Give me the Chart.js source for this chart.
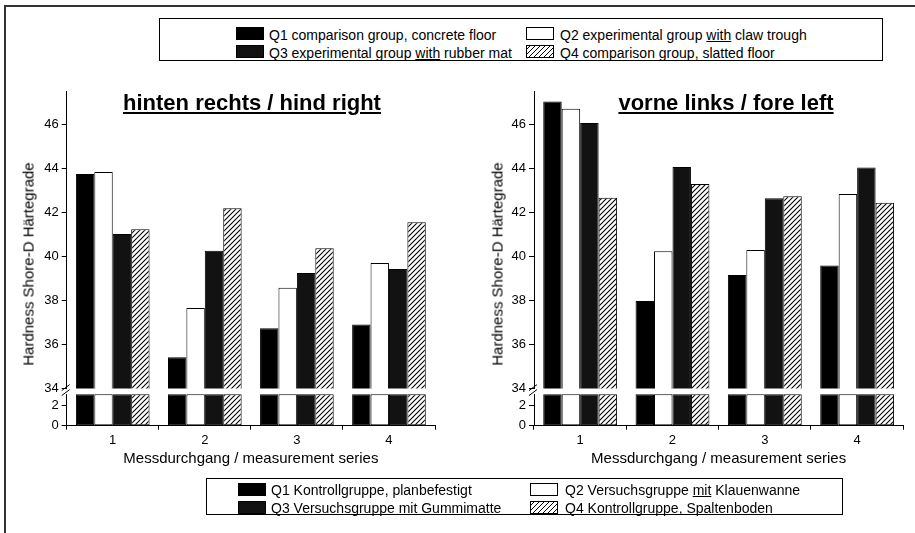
<!DOCTYPE html>
<html>
<head>
<meta charset="utf-8">
<script src="https://cdn.jsdelivr.net/npm/chart.js@4.4.1/dist/chart.umd.min.js"></script>
<style>
  body { margin: 0; background: #fff; }
  #page { position: relative; width: 915px; height: 533px; overflow: hidden; background: #fff;
          font-family: 'Liberation Sans', Arial, sans-serif; color: #000; }
  .frameTop { position: absolute; left: 4px; top: 5px; width: 911px; height: 0; border-top: 2px solid #333; }
  .frameLeft { position: absolute; left: 4px; top: 5px; width: 0; height: 528px; border-left: 2px solid #333; }
  .legendBox { position: absolute; border: 1px solid #000; box-sizing: border-box; }
  .swatch { position: absolute; width: 28px; height: 13px; box-sizing: border-box; border: 1px solid #000; }
  .sw1 { background: #000; }
  .sw2 { background: #fff; }
  .sw3 { background: #121212; }
  .sw4 { background: repeating-linear-gradient(-45deg, #fff 0px, #fff 2.4px, #000 2.4px, #000 3.5px); }
  .legendText { position: absolute; font-size: 14px; line-height: 16px; white-space: nowrap; }
  .panelTitle { position: absolute; font-size: 22px; font-weight: bold; line-height: 25px; white-space: nowrap;
                text-decoration: underline; text-decoration-thickness: 2px; text-underline-offset: 2px;
                transform: translateX(-50%); }
  .yTitle { position: absolute; font-size: 15px; white-space: nowrap; transform: translate(-50%, -50%) rotate(-90deg); }
  canvas { position: absolute; }
</style>
</head>
<body>
<div id="page">
  <div class="frameTop"></div>
  <div class="frameLeft"></div>

  <div class="legendBox" style="left:159px; top:18px; width:724px; height:43px;"></div>
  <div class="swatch sw1" style="left:236px; top:27px;"></div>
  <div class="legendText" style="left:269px; top:27px;">Q1 comparison group, concrete floor</div>
  <div class="swatch sw3" style="left:236px; top:45px;"></div>
  <div class="legendText" style="left:269px; top:45px;">Q3 experimental group <u>with</u> rubber mat</div>
  <div class="swatch sw2" style="left:526px; top:27px;"></div>
  <div class="legendText" style="left:560px; top:27px;">Q2 experimental group <u>with</u> claw trough</div>
  <div class="swatch sw4" style="left:526px; top:45px;"></div>
  <div class="legendText" style="left:560px; top:45px;">Q4 comparison group, slatted floor</div>

  <canvas id="hindChart" width="460" height="400" style="left:0px; top:80px;"></canvas>
  <canvas id="foreChart" width="455" height="400" style="left:460px; top:80px;"></canvas>

  <div class="panelTitle" style="left:252px; top:90px;">hinten rechts / hind right</div>
  <div class="panelTitle" style="left:726px; top:90px;">vorne links / fore left</div>
  <div class="yTitle" style="left:28px; top:264px;">Hardness Shore-D Härtegrade</div>
  <div class="yTitle" style="left:497px; top:264px;">Hardness Shore-D Härtegrade</div>

  <div class="legendBox" style="left:206px; top:478px; width:637px; height:37px;"></div>
  <div class="swatch sw1" style="left:238px; top:483px;"></div>
  <div class="legendText" style="left:271px; top:482px;">Q1 Kontrollgruppe, planbefestigt</div>
  <div class="swatch sw3" style="left:238px; top:501px;"></div>
  <div class="legendText" style="left:271px; top:500px;">Q3 Versuchsgruppe <u>mit</u> Gummimatte</div>
  <div class="swatch sw2" style="left:530px; top:483px;"></div>
  <div class="legendText" style="left:565px; top:482px;">Q2 Versuchsgruppe <u>mit</u> Klauenwanne</div>
  <div class="swatch sw4" style="left:530px; top:501px;"></div>
  <div class="legendText" style="left:565px; top:500px;">Q4 Kontrollgruppe, Spaltenboden</div>
</div>

<script>
// measurement series (x categories)
var series = ['1', '2', '3', '4'];

// hinten rechts / hind right
var hindQ1 = [43.76, 35.42, 36.74, 36.91];
var hindQ2 = [43.85, 37.67, 38.59, 39.71];
var hindQ3 = [41.03, 40.27, 39.26, 39.44];
var hindQ4 = [41.24, 42.20, 40.38, 41.56];

// vorne links / fore left
var foreQ1 = [47.05, 37.98, 39.16, 39.60];
var foreQ2 = [46.72, 40.25, 40.30, 42.85];
var foreQ3 = [46.08, 44.08, 42.65, 44.05];
var foreQ4 = [42.68, 43.30, 42.75, 42.45];

// y ticks on both sides of the axis break
var upperTicks = [34, 36, 38, 40, 42, 44, 46];
var lowerTicks = [0, 2];
var upperMin = 34, upperMax = 47.5;
var lowerMax = 3.6, lowerBarTop = 3.05;

Chart.defaults.font.family = "'Liberation Sans', Arial, sans-serif";
Chart.defaults.color = '#000';

// diagonal hatching for Q4
function makeHatch() {
  var c = document.createElement('canvas');
  c.width = 5; c.height = 5;
  var g = c.getContext('2d');
  g.fillStyle = '#fff';
  g.fillRect(0, 0, 5, 5);
  g.strokeStyle = '#000';
  g.lineWidth = 1.1;
  g.beginPath();
  g.moveTo(-1, 6); g.lineTo(6, -1);
  g.moveTo(-1, 1); g.lineTo(1, -1);
  g.moveTo(4, 6); g.lineTo(6, 4);
  g.stroke();
  return g.createPattern(c, 'repeat');
}
var hatch = makeHatch();

function buildDatasets(q1, q2, q3, q4) {
  var groups = [
    { key: 'Q1', values: q1, fill: '#000' },
    { key: 'Q2', values: q2, fill: '#fff' },
    { key: 'Q3', values: q3, fill: '#121212' },
    { key: 'Q4', values: q4, fill: hatch }
  ];
  var sets = [];
  // upper part of the broken axis
  groups.forEach(function(g) {
    sets.push({ label: g.key, data: g.values, yAxisID: 'y', stack: g.key,
      backgroundColor: g.fill, borderColor: '#000', borderWidth: 1, borderSkipped: false,
      categoryPercentage: 0.8, barPercentage: 1 });
  });
  // lower stub below the break
  groups.forEach(function(g) {
    sets.push({ label: g.key + ' low', data: g.values.map(function(v) { return Math.min(v, lowerBarTop); }),
      yAxisID: 'yLow', stack: g.key,
      backgroundColor: g.fill, borderColor: '#000', borderWidth: 1, borderSkipped: false,
      categoryPercentage: 0.8, barPercentage: 1 });
  });
  return sets;
}

// white gap + "//" marks on the y axis
var breakMarks = {
  id: 'breakMarks',
  afterDraw: function(chart) {
    var ctx = chart.ctx;
    var x = chart.chartArea.left;
    var yb = chart.scales.yLow.top;
    ctx.save();
    ctx.fillStyle = '#fff';
    ctx.fillRect(x - 2, yb + 0.5, 4, 5);
    ctx.strokeStyle = '#000';
    ctx.lineWidth = 1;
    ctx.beginPath();
    ctx.moveTo(x - 5, yb + 2); ctx.lineTo(x + 3, yb - 4);
    ctx.moveTo(x - 5, yb + 7); ctx.lineTo(x + 3, yb + 1);
    ctx.stroke();
    ctx.restore();
  }
};

function makeChart(id, datasets, axisWidth, padRight) {
  return new Chart(document.getElementById(id), {
    type: 'bar',
    data: { labels: series, datasets: datasets },
    plugins: [breakMarks],
    options: {
      responsive: false,
      animation: false,
      layout: { padding: { left: 0, right: padRight, top: 11.7, bottom: 0 } },
      plugins: { legend: { display: false }, tooltip: { enabled: false } },
      scales: {
        x: {
          offset: true,
          grid: { offset: true, drawOnChartArea: false, tickLength: 4, color: '#000' },
          border: { color: '#000', width: 1 },
          ticks: { font: { size: 13 }, padding: 3 },
          title: { display: true, text: 'Messdurchgang / measurement series', font: { size: 15 },
                   padding: { top: 0, bottom: 12 } },
          afterFit: function(s) { s.height = 54.3; }
        },
        yLow: {
          type: 'linear', position: 'left', stack: 'hardness', stackWeight: 1, weight: 1,
          min: 0, max: lowerMax,
          grid: { drawOnChartArea: false, tickLength: 5, color: '#000' },
          border: { color: '#000', width: 1 },
          ticks: { font: { size: 13 }, padding: 3 },
          afterBuildTicks: function(s) { s.ticks = lowerTicks.map(function(v) { return { value: v }; }); },
          afterFit: function(s) { s.width = axisWidth; }
        },
        y: {
          type: 'linear', position: 'left', stack: 'hardness', stackWeight: 8, weight: 2,
          min: upperMin, max: upperMax,
          grid: { drawOnChartArea: false, tickLength: 5, color: '#000' },
          border: { color: '#000', width: 1 },
          ticks: { font: { size: 13 }, padding: 3 },
          afterBuildTicks: function(s) { s.ticks = upperTicks.map(function(v) { return { value: v }; }); },
          afterFit: function(s) { s.width = axisWidth; }
        }
      }
    }
  });
}

makeChart('hindChart', buildDatasets(hindQ1, hindQ2, hindQ3, hindQ4), 66.7, 25);
makeChart('foreChart', buildDatasets(foreQ1, foreQ2, foreQ3, foreQ4), 74, 11.7);
</script>
</body>
</html>
